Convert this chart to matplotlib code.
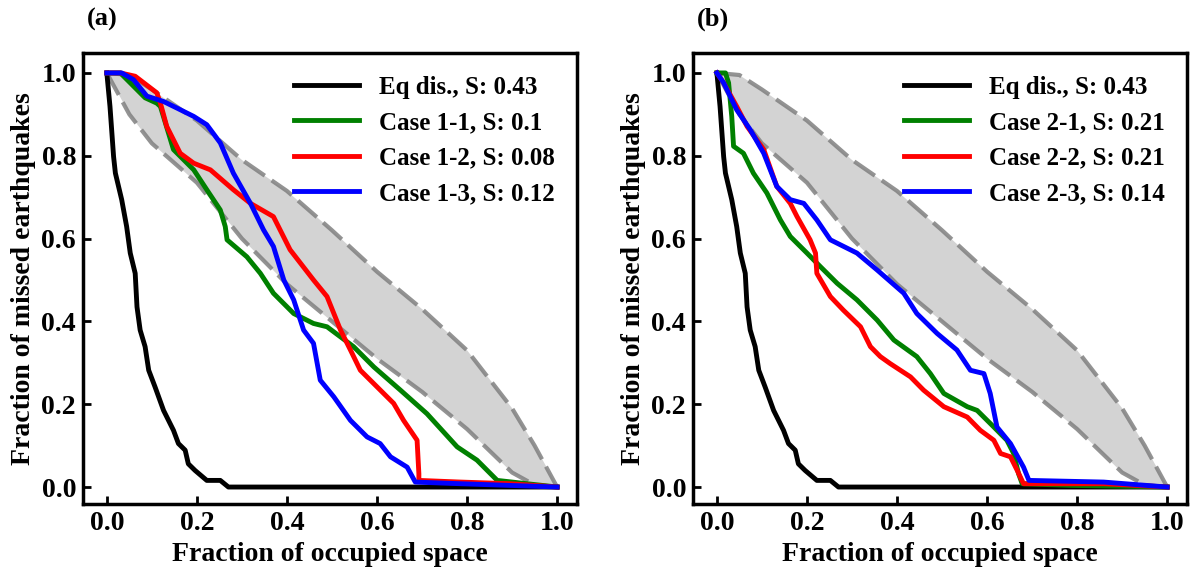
import numpy as np
import matplotlib.pyplot as plt

plt.rcParams['font.family'] = 'Liberation Serif'
plt.rcParams['font.weight'] = 'bold'

# random-model band (same in both panels)
band_x = [0, 0.05, 0.1, 0.2, 0.3, 0.4, 0.5, 0.6, 0.7, 0.8, 0.9, 0.95, 1.0]
band_hi = [1, 0.995, 0.96, 0.885, 0.79, 0.715, 0.62, 0.52, 0.43, 0.33, 0.19, 0.10, 0.0]
band_lo = [1, 0.9, 0.83, 0.735, 0.6, 0.49, 0.4, 0.31, 0.23, 0.14, 0.035, 0.005, 0.0]

# earthquake distribution
eq_x = [0, 0.007, 0.015, 0.019, 0.033, 0.044, 0.052, 0.063, 0.067, 0.074, 0.085, 0.093,
        0.107, 0.126, 0.148, 0.159, 0.174, 0.181, 0.196, 0.222, 0.252, 0.27, 1.0]
eq_y = [1, 0.919, 0.798, 0.758, 0.694, 0.629, 0.565, 0.516, 0.435, 0.379, 0.339, 0.282,
        0.242, 0.185, 0.137, 0.105, 0.089, 0.056, 0.040, 0.016, 0.016, 0.0, 0.0]

# panel (a)
c11_x = [0, 0.03, 0.052, 0.085, 0.111, 0.119, 0.148, 0.193, 0.222, 0.252, 0.263, 0.267,
         0.311, 0.341, 0.370, 0.415, 0.459, 0.489, 0.548, 0.593, 0.652, 0.711, 0.778,
         0.822, 0.867, 0.933, 1.0]
c11_y = [1, 1, 0.976, 0.94, 0.927, 0.919, 0.815, 0.766, 0.718, 0.669, 0.629, 0.597,
         0.556, 0.516, 0.468, 0.419, 0.395, 0.387, 0.339, 0.290, 0.234, 0.177, 0.097,
         0.065, 0.016, 0.008, 0.0]
c12_x = [0, 0.03, 0.063, 0.111, 0.119, 0.133, 0.163, 0.193, 0.230, 0.281, 0.319, 0.370,
         0.407, 0.459, 0.489, 0.519, 0.541, 0.563, 0.6, 0.637, 0.659, 0.689, 0.693,
         0.693, 0.785, 0.896, 1.0]
c12_y = [1, 1, 0.992, 0.952, 0.927, 0.871, 0.806, 0.782, 0.766, 0.718, 0.685, 0.653,
         0.573, 0.5, 0.460, 0.379, 0.331, 0.282, 0.242, 0.202, 0.161, 0.113, 0.032,
         0.016, 0.012, 0.008, 0.0]
c13_x = [0, 0.033, 0.059, 0.089, 0.126, 0.156, 0.193, 0.222, 0.252, 0.281, 0.319, 0.348,
         0.370, 0.393, 0.415, 0.437, 0.459, 0.474, 0.504, 0.541, 0.578, 0.607, 0.630,
         0.667, 0.685, 0.785, 1.0]
c13_y = [1, 1, 0.984, 0.944, 0.931, 0.915, 0.895, 0.875, 0.831, 0.758, 0.685, 0.621,
         0.581, 0.5, 0.452, 0.379, 0.347, 0.258, 0.218, 0.161, 0.121, 0.105, 0.073,
         0.048, 0.012, 0.008, 0.0]

# panel (b)
c21_x = [0, 0.019, 0.026, 0.033, 0.037, 0.059, 0.081, 0.111, 0.141, 0.163, 0.2, 0.230,
         0.267, 0.311, 0.356, 0.393, 0.444, 0.474, 0.504, 0.556, 0.578, 0.615, 0.644,
         0.659, 0.670, 0.678, 0.785, 1.0]
c21_y = [1, 1, 0.976, 0.895, 0.823, 0.806, 0.758, 0.71, 0.645, 0.605, 0.565, 0.532,
         0.492, 0.452, 0.403, 0.355, 0.315, 0.274, 0.226, 0.194, 0.185, 0.145, 0.113,
         0.081, 0.032, 0.008, 0.004, 0.0]
c22_x = [0, 0.015, 0.044, 0.067, 0.104, 0.133, 0.163, 0.178, 0.207, 0.219, 0.222, 0.252,
         0.281, 0.319, 0.341, 0.363, 0.385, 0.430, 0.459, 0.504, 0.556, 0.585, 0.615,
         0.630, 0.652, 0.667, 0.681, 0.859, 1.0]
c22_y = [1, 0.976, 0.919, 0.871, 0.815, 0.726, 0.685, 0.653, 0.597, 0.565, 0.516, 0.460,
         0.427, 0.387, 0.339, 0.315, 0.298, 0.266, 0.234, 0.194, 0.169, 0.137, 0.113,
         0.081, 0.073, 0.040, 0.008, 0.008, 0.0]
c23_x = [0, 0.015, 0.044, 0.074, 0.104, 0.133, 0.163, 0.193, 0.222, 0.252, 0.311, 0.356,
         0.415, 0.444, 0.489, 0.533, 0.563, 0.593, 0.607, 0.622, 0.652, 0.681, 0.693,
         0.859, 1.0]
c23_y = [1, 0.976, 0.911, 0.863, 0.806, 0.726, 0.694, 0.685, 0.645, 0.597, 0.565, 0.524,
         0.468, 0.419, 0.371, 0.331, 0.282, 0.274, 0.226, 0.145, 0.105, 0.048, 0.016,
         0.012, 0.0]

panels = [
    ("(a)", [("Case 1-1, S: 0.1", c11_x, c11_y), ("Case 1-2, S: 0.08", c12_x, c12_y),
             ("Case 1-3, S: 0.12", c13_x, c13_y)]),
    ("(b)", [("Case 2-1, S: 0.21", c21_x, c21_y), ("Case 2-2, S: 0.21", c22_x, c22_y),
             ("Case 2-3, S: 0.14", c23_x, c23_y)]),
]
colors = ['green', 'red', 'blue']

fig = plt.figure(figsize=(11.92, 5.73), dpi=100)
lefts = [0.0696, 0.5814]

for left, (tag, cases) in zip(lefts, panels):
    ax = fig.add_axes([left, 0.1204, 0.4144, 0.787])
    ax.fill_between(band_x, band_lo, band_hi, color='#d3d3d3', lw=0)
    ax.plot(band_x, band_hi, color='gray', lw=3, ls=(0, (6, 2)), alpha=0.85)
    ax.plot(band_x, band_lo, color='gray', lw=3, ls=(0, (6, 2)), alpha=0.85)
    ax.plot(eq_x, eq_y, color='black', lw=3.5, label="Eq dis., S: 0.43")
    for (lab, x, y), c in zip(cases, colors):
        ax.plot(x, y, color=c, lw=3.5, label=lab)
    ax.set_xlim(-0.053, 1.044)
    ax.set_ylim(-0.041, 1.048)
    ax.set_xticks([0, 0.2, 0.4, 0.6, 0.8, 1.0])
    ax.set_yticks([0, 0.2, 0.4, 0.6, 0.8, 1.0])
    ax.xaxis.set_major_formatter(plt.FormatStrFormatter('%.1f'))
    ax.yaxis.set_major_formatter(plt.FormatStrFormatter('%.1f'))
    ax.tick_params(direction='in', length=6, width=2, labelsize=20, pad=5)
    for s in ax.spines.values():
        s.set_linewidth(2.5)
    ax.set_xlabel("Fraction of occupied space", fontsize=20, fontweight='bold', labelpad=4)
    ax.set_ylabel("Fraction of missed earthquakes", fontsize=20, fontweight='bold', labelpad=4)
    ax.legend(loc='upper right', frameon=False, handlelength=2.6,
              prop={'weight': 'bold', 'size': 18})
    ax.text(0.04, 1.05, tag, transform=ax.transAxes, fontsize=19, fontweight='bold',
            ha='center', va='bottom')

fig.savefig('out.png', dpi=100)
